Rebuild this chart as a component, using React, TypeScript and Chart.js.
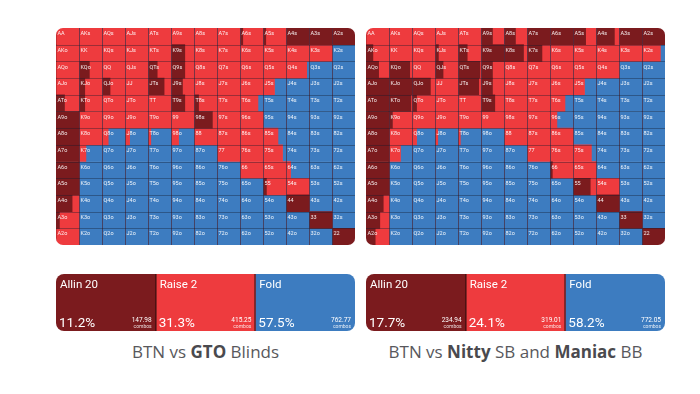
import React, { useEffect, useRef } from "react";
import { Chart, registerables } from "chart.js";
Chart.register(...registerables);

const ranks = ["A", "K", "Q", "J", "T", "9", "8", "7", "6", "5", "4", "3", "2"];
const actionNames = ["Allin 20", "Raise 2", "Fold"];
const actionColors = ["#7b1b1e", "#ee3b3e", "#3d7cc0"];

// GTO: allin % per hand (row = first rank, col = second rank)
const gtoAllin = [
  [0, 0, 0, 0, 0, 0, 0, 0, 12, 12, 100, 100, 100],
  [0, 0, 0, 0, 0, 60, 0, 0, 0, 0, 0, 0, 0],
  [0, 45, 0, 0, 40, 60, 0, 0, 0, 0, 0, 0, 0],
  [0, 25, 35, 0, 70, 50, 0, 0, 0, 0, 0, 0, 0],
  [37, 25, 0, 0, 0, 60, 20, 0, 0, 0, 0, 0, 0],
  [100, 0, 0, 0, 0, 0, 80, 0, 0, 0, 0, 0, 0],
  [100, 0, 0, 0, 0, 0, 0, 0, 0, 0, 0, 0, 0],
  [100, 0, 0, 0, 0, 0, 0, 0, 0, 0, 0, 0, 0],
  [100, 0, 0, 0, 0, 0, 0, 0, 0, 0, 0, 0, 0],
  [100, 0, 0, 0, 0, 0, 0, 0, 0, 15, 0, 0, 0],
  [70, 0, 0, 0, 0, 0, 0, 0, 0, 0, 100, 0, 0],
  [15, 0, 0, 0, 0, 0, 0, 0, 0, 0, 0, 100, 0],
  [0, 0, 0, 0, 0, 0, 0, 0, 0, 0, 0, 0, 100],
];
const gtoRaise = [
  [100, 100, 100, 100, 100, 100, 100, 100, 88, 88, 0, 0, 0],
  [100, 100, 100, 100, 100, 40, 100, 100, 100, 100, 100, 100, 0],
  [100, 55, 100, 100, 60, 40, 100, 100, 100, 100, 90, 0, 0],
  [100, 75, 65, 100, 30, 50, 100, 100, 100, 50, 0, 0, 0],
  [63, 75, 100, 100, 100, 40, 80, 100, 78, 0, 0, 0, 0],
  [0, 100, 100, 100, 100, 100, 20, 100, 100, 0, 0, 0, 0],
  [0, 100, 27, 20, 12, 33, 100, 100, 100, 65, 0, 0, 0],
  [0, 30, 0, 0, 0, 0, 0, 100, 100, 85, 0, 0, 0],
  [0, 0, 0, 0, 0, 0, 0, 0, 100, 100, 20, 0, 0],
  [0, 0, 0, 0, 0, 0, 0, 0, 0, 85, 100, 0, 0],
  [30, 0, 0, 0, 0, 0, 0, 0, 0, 0, 0, 0, 0],
  [85, 0, 0, 0, 0, 0, 0, 0, 0, 0, 0, 0, 0],
  [100, 0, 0, 0, 0, 0, 0, 0, 0, 0, 0, 0, 0],
];

// Exploit (Nitty SB, Maniac BB)
const exAllin = [
  [0, 0, 0, 0, 0, 50, 50, 100, 100, 55, 80, 100, 100],
  [30, 0, 0, 15, 40, 100, 85, 65, 0, 0, 0, 0, 0],
  [55, 90, 0, 35, 95, 50, 0, 0, 0, 0, 0, 0, 0],
  [100, 100, 80, 0, 90, 50, 0, 0, 0, 0, 0, 0, 0],
  [100, 95, 20, 0, 0, 60, 0, 0, 0, 0, 0, 0, 0],
  [100, 15, 0, 0, 0, 0, 0, 0, 0, 0, 0, 0, 0],
  [100, 0, 0, 0, 0, 0, 0, 0, 0, 0, 0, 0, 0],
  [100, 0, 0, 0, 0, 0, 0, 0, 0, 0, 0, 0, 0],
  [100, 0, 0, 0, 0, 0, 0, 0, 10, 0, 0, 0, 0],
  [100, 0, 0, 0, 0, 0, 0, 0, 0, 75, 0, 0, 0],
  [75, 0, 0, 0, 0, 0, 0, 0, 0, 0, 100, 0, 0],
  [60, 0, 0, 0, 0, 0, 0, 0, 0, 0, 0, 100, 0],
  [40, 0, 0, 0, 0, 0, 0, 0, 0, 0, 0, 0, 100],
];
const exRaise = [
  [100, 100, 100, 100, 100, 50, 50, 0, 0, 45, 20, 0, 0],
  [70, 100, 100, 85, 60, 0, 15, 35, 100, 100, 100, 100, 80],
  [45, 10, 100, 65, 5, 50, 100, 100, 100, 100, 100, 0, 0],
  [0, 0, 20, 100, 10, 50, 100, 100, 100, 50, 0, 0, 0],
  [0, 5, 80, 100, 100, 40, 100, 100, 65, 0, 0, 0, 0],
  [0, 85, 100, 100, 100, 100, 100, 100, 30, 0, 0, 0, 0],
  [0, 100, 20, 12, 10, 0, 100, 100, 100, 0, 0, 0, 0],
  [0, 50, 0, 0, 0, 0, 0, 100, 100, 80, 0, 0, 0],
  [0, 0, 0, 0, 0, 0, 0, 0, 90, 100, 0, 0, 0],
  [0, 0, 0, 0, 0, 0, 0, 0, 0, 25, 100, 0, 0],
  [25, 0, 0, 0, 0, 0, 0, 0, 0, 0, 0, 0, 0],
  [40, 0, 0, 0, 0, 0, 0, 0, 0, 0, 0, 0, 0],
  [60, 0, 0, 0, 0, 0, 0, 0, 0, 0, 0, 0, 0],
];

const summarySlots = [1, 1, 1];
const gtoPct = ["11.2%", "31.3%", "57.5%"];
const gtoCombos = ["147.98", "415.25", "762.77"];
const exPct = ["17.7%", "24.1%", "58.2%"];
const exCombos = ["234.94", "319.01", "772.05"];

function handLabel(i: number, j: number) {
  if (i === j) return ranks[i] + ranks[i];
  if (j > i) return ranks[i] + ranks[j] + "s";
  return ranks[j] + ranks[i] + "o";
}

const gridPlugin = {
  id: "cellgrid",
  beforeDatasetsDraw(chart: any) {
    const { ctx, chartArea } = chart;
    const { left, top, right, bottom } = chartArea;
    ctx.save();
    ctx.beginPath();
    ctx.roundRect(left, top, right - left, bottom - top, 7);
    ctx.clip();
  },
  afterDatasetsDraw(chart: any) {
    const { ctx, chartArea, scales } = chart;
    const { left, top, right, bottom } = chartArea;
    const x = scales.x;
    const y = scales.y;
    const bh = (bottom - top) / 13;
    ctx.strokeStyle = "rgba(20,25,45,0.38)";
    ctx.lineWidth = 1;
    ctx.beginPath();
    for (let j = 1; j < 13; j++) {
      const px = Math.round(x.getPixelForValue(j * 100)) + 0.5;
      ctx.moveTo(px, top);
      ctx.lineTo(px, bottom);
    }
    for (let i = 1; i < 13; i++) {
      const py = Math.round(y.getPixelForValue(i) - bh / 2) + 0.5;
      ctx.moveTo(left, py);
      ctx.lineTo(right, py);
    }
    ctx.stroke();
    ctx.fillStyle = "rgba(255,255,255,0.92)";
    ctx.font = "5.5px Roboto";
    ctx.textBaseline = "top";
    ctx.textAlign = "left";
    for (let i = 0; i < 13; i++) {
      for (let j = 0; j < 13; j++) {
        ctx.fillText(handLabel(i, j), x.getPixelForValue(j * 100) + 1.5, y.getPixelForValue(i) - bh / 2 + 3);
      }
    }
    ctx.restore();
  },
};

function RangeGrid({ allin, raise, left, top }: any) {
  const ref = useRef<HTMLCanvasElement>(null);
  useEffect(() => {
    const datasets: any[] = [];
    for (let j = 0; j < 13; j++) {
      const a = ranks.map((_, i) => allin[i][j]);
      const r = ranks.map((_, i) => raise[i][j]);
      const f = ranks.map((_, i) => 100 - allin[i][j] - raise[i][j]);
      [a, r, f].forEach((d, k) =>
        datasets.push({
          label: actionNames[k],
          data: d,
          backgroundColor: actionColors[k],
          borderWidth: 0,
          barPercentage: 1,
          categoryPercentage: 1,
          stack: "s",
        })
      );
    }
    const chart = new Chart(ref.current as HTMLCanvasElement, {
      type: "bar",
      data: { labels: ranks, datasets },
      options: {
        indexAxis: "y",
        animation: false,
        responsive: false,
        maintainAspectRatio: false,
        events: [],
        layout: { padding: 0 },
        plugins: { legend: { display: false }, tooltip: { enabled: false } },
        scales: {
          x: { stacked: true, min: 0, max: 1300, display: false },
          y: { stacked: true, display: false },
        },
      },
      plugins: [gridPlugin],
    } as any);
    return () => chart.destroy();
  }, []);
  return (
    <canvas ref={ref} width={299} height={217} style={{ position: "absolute", left, top, width: 299, height: 217 }} />
  );
}

function makeSummaryPlugin(pct: string[], combos: string[]) {
  return {
    id: "summarytext",
    beforeDatasetsDraw(chart: any) {
      const { ctx, chartArea } = chart;
      const { left, top, right, bottom } = chartArea;
      ctx.save();
      ctx.beginPath();
      ctx.roundRect(left, top, right - left, bottom - top, 8);
      ctx.clip();
    },
    afterDatasetsDraw(chart: any) {
      const { ctx, chartArea } = chart;
      const { top, bottom } = chartArea;
      for (let k = 0; k < 3; k++) {
        const el = chart.getDatasetMeta(k).data[0];
        const x0 = Math.min(el.base, el.x);
        const x1 = Math.max(el.base, el.x);
        if (k > 0) {
          ctx.fillStyle = "rgba(20,10,10,0.9)";
          ctx.fillRect(Math.round(x0) - 0.5, top, 1, bottom - top);
        }
        ctx.fillStyle = "#ffffff";
        ctx.textAlign = "left";
        ctx.textBaseline = "alphabetic";
        ctx.font = "11.5px Roboto";
        ctx.fillText(actionNames[k], x0 + 4, top + 13.5);
        ctx.font = "13.5px Roboto";
        ctx.fillText(pct[k], x0 + 3, top + 52.5);
        ctx.textAlign = "right";
        ctx.font = "6.5px Roboto";
        ctx.fillText(combos[k], x1 - 4, top + 47.5);
        ctx.font = "5px Roboto";
        ctx.fillStyle = "rgba(255,255,255,0.85)";
        ctx.fillText("combos", x1 - 4, top + 54);
      }
      ctx.restore();
    },
  };
}

function SummaryBar({ pct, combos, left, top }: any) {
  const ref = useRef<HTMLCanvasElement>(null);
  useEffect(() => {
    const datasets = summarySlots.map((v, k) => ({
      label: actionNames[k],
      data: [v],
      backgroundColor: actionColors[k],
      borderWidth: 0,
      barPercentage: 1,
      categoryPercentage: 1,
      stack: "s",
    }));
    const chart = new Chart(ref.current as HTMLCanvasElement, {
      type: "bar",
      data: { labels: ["range"], datasets },
      options: {
        indexAxis: "y",
        animation: false,
        responsive: false,
        maintainAspectRatio: false,
        events: [],
        layout: { padding: 0 },
        plugins: { legend: { display: false }, tooltip: { enabled: false } },
        scales: {
          x: { stacked: true, min: 0, max: 3, display: false },
          y: { stacked: true, display: false },
        },
      },
      plugins: [makeSummaryPlugin(pct, combos)],
    } as any);
    return () => chart.destroy();
  }, []);
  return (
    <canvas ref={ref} width={299} height={57} style={{ position: "absolute", left, top, width: 299, height: 57 }} />
  );
}

const captionStyle: any = {
  position: "absolute",
  top: 340,
  width: 320,
  textAlign: "center",
  fontFamily: "'Open Sans', sans-serif",
  fontSize: 17,
  color: "#58585c",
  lineHeight: "24px",
  whiteSpace: "nowrap",
};

export default function App() {
  return (
    <div style={{ position: "absolute", left: 0, top: 0, width: 700, height: 394, background: "#ffffff", overflow: "hidden" }}>
      <RangeGrid allin={gtoAllin} raise={gtoRaise} left={56} top={28} />
      <RangeGrid allin={exAllin} raise={exRaise} left={366} top={28} />
      <SummaryBar pct={gtoPct} combos={gtoCombos} left={56} top={274} />
      <SummaryBar pct={exPct} combos={exCombos} left={366} top={274} />
      <div style={{ ...captionStyle, left: 205.5 - 160 }}>
        BTN vs <b style={{ fontWeight: 700, color: "#4a4a4e" }}>GTO</b> Blinds
      </div>
      <div style={{ ...captionStyle, left: 515.5 - 160 }}>
        BTN vs <b style={{ fontWeight: 700, color: "#4a4a4e" }}>Nitty</b> SB and{" "}
        <b style={{ fontWeight: 700, color: "#4a4a4e" }}>Maniac</b> BB
      </div>
    </div>
  );
}
